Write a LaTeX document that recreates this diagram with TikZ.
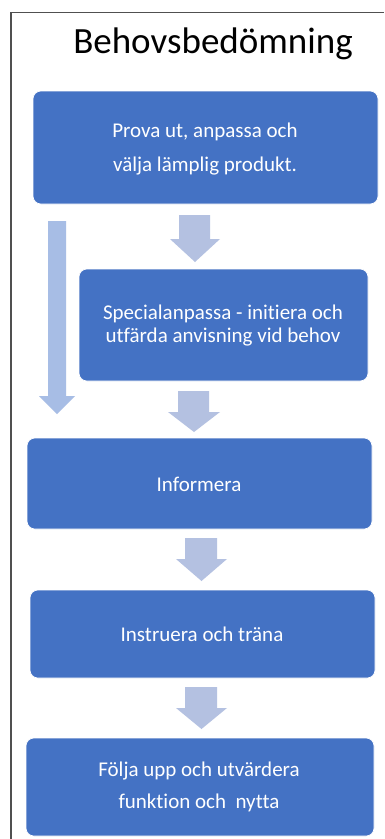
\documentclass[tikz,border=0pt]{standalone}
\usepackage{fontspec}
\setmainfont[Ligatures=NoCommon]{Carlito}
\definecolor{boxblue}{HTML}{4472C4}
\definecolor{arrowblue}{HTML}{B4C1E1}
\definecolor{longblue}{HTML}{A7BDE5}
\definecolor{framegray}{HTML}{505050}
\begin{document}
\begin{tikzpicture}[x=1pt,y=-1pt,
  stepbox/.style={fill=boxblue, draw=white, line width=0.6pt, rounded corners=8pt},
  steptext/.style={text=white, align=center, font=\fontsize{21}{23}\selectfont},
  ]
\useasboundingbox (0,0) rectangle (384,839);
\fill[white] (0,0) rectangle (384,839);
\draw[framegray, line width=1.6pt] (11,839) -- (11,12.5) -- (384,12.5);
\node[font=\fontsize{37}{40}\selectfont, anchor=base] (title) at (213,53) {Behovsbedömning};

% boxes
\path[stepbox] (33,91) rectangle (378,204);
\node[steptext, font=\fontsize{21}{34}\selectfont] (b1) at (205,149) {Prova ut, anpassa och\\välja lämplig produkt.};
\path[stepbox] (79,269) rectangle (368,381);
\node[steptext] (b2) at (223,326) {Specialanpassa - initiera och\\utfärda anvisning vid behov};
\path[stepbox] (27,438) rectangle (372,529);
\node[steptext] (b3) at (199,484) {Informera};
\path[stepbox] (30,590) rectangle (375,678);
\node[steptext] (b4) at (202,634) {Instruera och träna};
\path[stepbox] (26,738) rectangle (374,836);
\node[steptext, font=\fontsize{21}{32}\selectfont] (b5) at (199,787) {Följa upp och utvärdera\\funktion och\ \ nytta};

% block arrows
\newcommand{\blockarrow}[7]{%
  \fill[#1] (#2,#6) -- (#3,#6) -- (#3,#7) -- (#5,#7) -- ({(#4+#5)/2},\tipy) -- (#4,#7) -- (#2,#7) -- cycle;}
\def\tipy{262}
\blockarrow{arrowblue}{179}{210}{170}{220}{215}{239}
\def\tipy{432}
\blockarrow{arrowblue}{178}{209}{168}{220}{391}{412}
\def\tipy{581}
\blockarrow{arrowblue}{185}{217}{176}{227}{538}{559}
\def\tipy{729}
\blockarrow{arrowblue}{185}{217}{176}{227}{687}{708}
\def\tipy{414}
\blockarrow{longblue}{48}{66}{39}{75}{221}{396}
\end{tikzpicture}
\end{document}
